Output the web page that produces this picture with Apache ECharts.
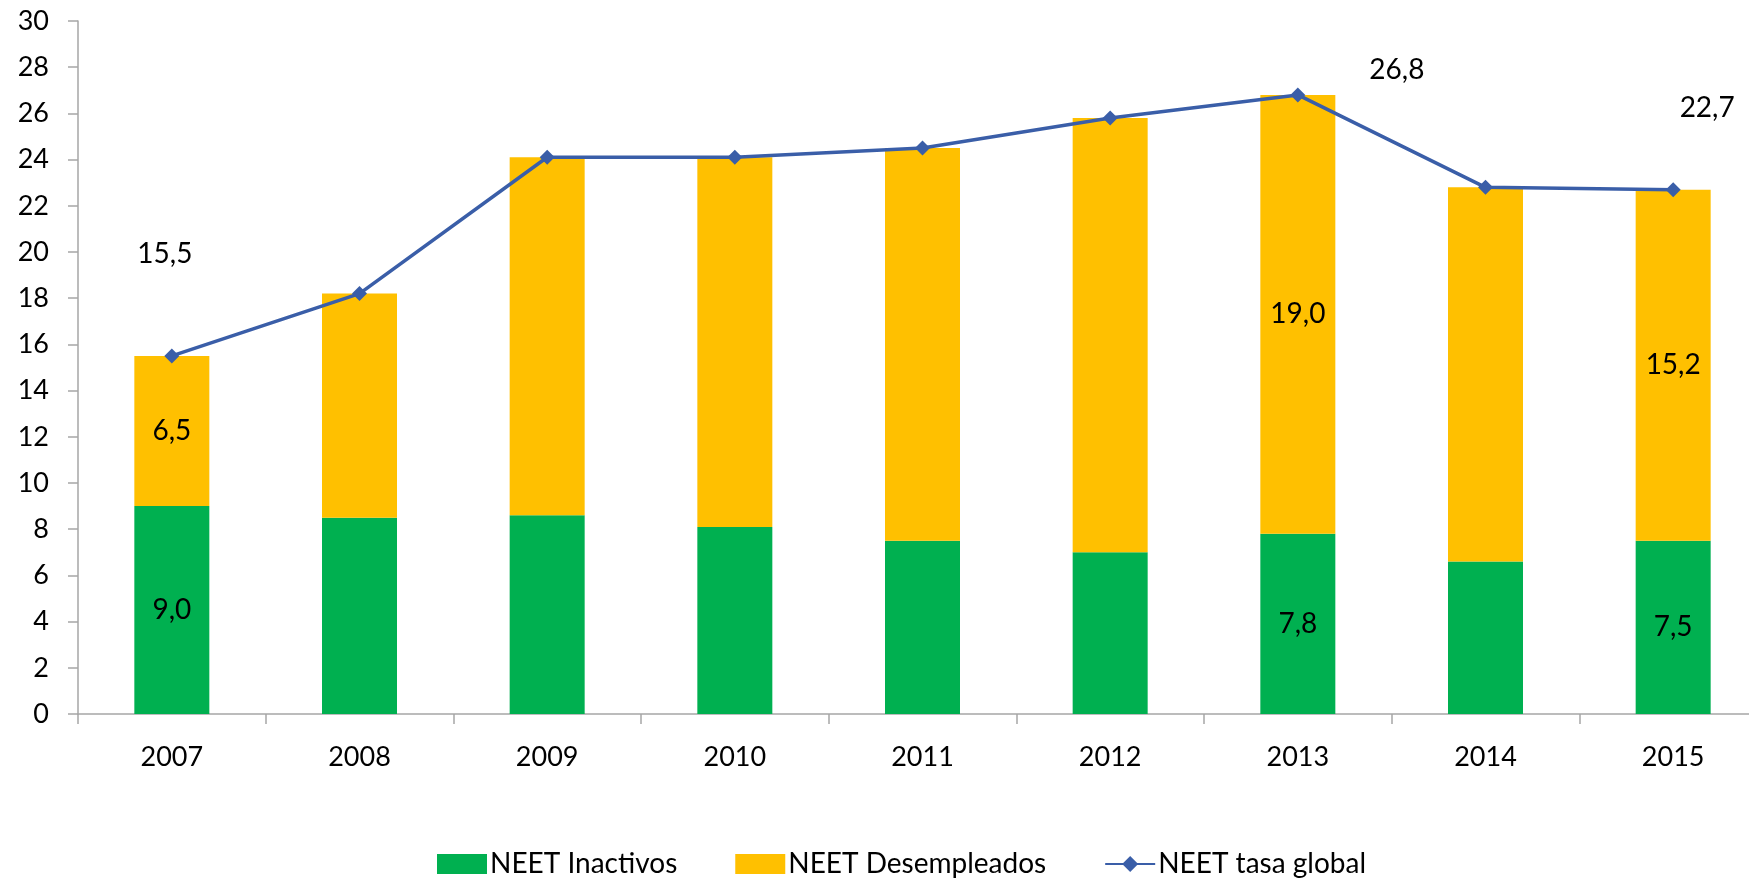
<!DOCTYPE html>
<html>
<head>
<meta charset="utf-8">
<script src="https://cdn.jsdelivr.net/npm/echarts@6/dist/echarts.min.js"></script>
<style>
  html, body { margin: 0; padding: 0; background: #fff; overflow: hidden; }
  #main { width: 1749px; height: 878px; }
</style>
</head>
<body>
<div id="main"></div>
<script>
// datos
var years = ["2007", "2008", "2009", "2010", "2011", "2012", "2013", "2014", "2015"];
var inactivos = [9.0, 8.5, 8.6, 8.1, 7.5, 7.0, 7.8, 6.6, 7.5];
var desempleados = [6.5, 9.7, 15.5, 16.0, 17.0, 18.8, 19.0, 16.2, 15.2];
var tasaGlobal = [15.5, 18.2, 24.1, 24.1, 24.5, 25.8, 26.8, 22.8, 22.7];
var yTicks = [0, 2, 4, 6, 8, 10, 12, 14, 16, 18, 20, 22, 24, 26, 28, 30];

// etiquetas visibles (indices)
var barLabelIdx = [0, 6, 8];
var lineLabelOffset = { 0: [-7, -102], 6: [99, -25], 8: [34, -82] };

var font = "Lato, 'Open Sans', sans-serif";
function fmt(v) { return v.toFixed(1).replace(".", ","); }

function barData(arr) {
  return arr.map(function (v, i) {
    return { value: v, label: { show: barLabelIdx.indexOf(i) >= 0 } };
  });
}

var lineData = tasaGlobal.map(function (v, i) {
  if (lineLabelOffset[i]) {
    return { value: v, label: { show: true, position: "inside", offset: lineLabelOffset[i] } };
  }
  return v;
});

var myChart = echarts.init(document.getElementById("main"));
myChart.setOption({
  animation: false,
  textStyle: { fontFamily: font },
  // el eje sigue mas alla del borde derecho, como en el original
  grid: { left: 78, top: 21, width: 1689, bottom: 164, containLabel: false, outerBoundsMode: "none" },
  legend: {
    left: 432,
    top: 845,
    itemWidth: 50,
    itemHeight: 20,
    itemGap: 58,
    textStyle: { fontFamily: font, fontSize: 28, color: "#000", padding: [0, 0, 0, -2] },
    data: [
      { name: "NEET Inactivos", icon: "rect" },
      { name: "NEET Desempleados", icon: "rect" },
      { name: "NEET tasa global" }
    ]
  },
  xAxis: {
    type: "category",
    data: years,
    axisLine: { lineStyle: { color: "#a6a6a6", width: 1.5 } },
    axisTick: { show: true, length: 10, lineStyle: { color: "#a6a6a6", width: 1.5 } },
    axisLabel: { color: "#000", fontSize: 27, margin: 30 }
  },
  yAxis: {
    type: "value",
    min: yTicks[0],
    max: yTicks[yTicks.length - 1],
    interval: 2,
    splitLine: { show: false },
    axisLine: { show: true, lineStyle: { color: "#a6a6a6", width: 1.5 } },
    axisTick: { show: true, length: 10, lineStyle: { color: "#a6a6a6", width: 1.5 } },
    axisLabel: { color: "#000", fontSize: 27, margin: 29 }
  },
  series: [
    {
      name: "NEET Inactivos",
      type: "bar",
      stack: "neet",
      barWidth: 75,
      itemStyle: { color: "#00b050" },
      label: { position: "inside", color: "#000", fontSize: 28, formatter: function (p) { return fmt(p.value); } },
      data: barData(inactivos)
    },
    {
      name: "NEET Desempleados",
      type: "bar",
      stack: "neet",
      barWidth: 75,
      itemStyle: { color: "#ffc000" },
      label: { position: "inside", color: "#000", fontSize: 28, formatter: function (p) { return fmt(p.value); } },
      data: barData(desempleados)
    },
    {
      name: "NEET tasa global",
      type: "line",
      symbol: "diamond",
      symbolSize: 15,
      lineStyle: { color: "#3a5ea8", width: 3.5 },
      itemStyle: { color: "#3a5ea8" },
      label: { show: false, color: "#000", fontSize: 28, formatter: function (p) { return fmt(p.value); } },
      data: lineData
    }
  ]
});
</script>
</body>
</html>
